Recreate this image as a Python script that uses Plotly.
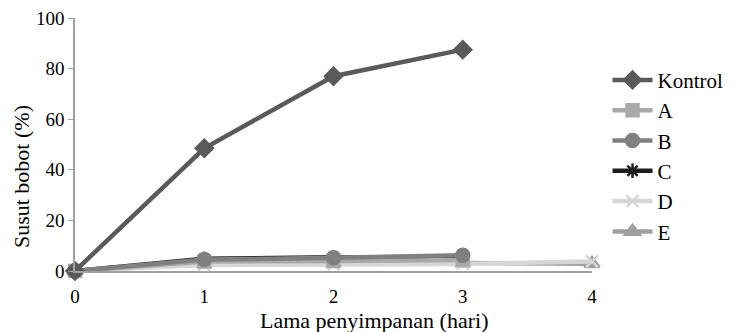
import plotly.graph_objects as go

days = [0, 1, 2, 3, 4]
series_names = ["Kontrol", "A", "B", "C", "D", "E"]
kontrol = [0, 48.5, 77.0, 87.5, None]
a_vals = [0, 3.8, 4.0, 4.3, None]
b_vals = [0, 4.5, 5.2, 6.2, None]
c_vals = [0, 4.8, 5.4, 4.6, None]
d_vals = [0, 2.4, 2.6, 2.8, 3.8]
e_vals = [0, 2.9, 3.0, 3.2, 2.9]
y_ticks = [0, 20, 40, 60, 80, 100]
x_title = "Lama penyimpanan (hari)"
y_title = "Susut bobot (%)"

values = [kontrol, a_vals, b_vals, c_vals, d_vals, e_vals]
colors = ["#5a5a5a", "#a9a9a9", "#808080", "#1e1e1e", "#d6d6d6", "#a0a0a0"]
symbols = ["diamond", "square", "circle", "asterisk-open", "x-thin-open", "triangle-up"]
sizes = [13, 12, 13, 12, 12, 13]

fig = go.Figure()
order = [5, 4, 3, 1, 2, 0]
for i in range(6):
    fig.add_trace(go.Scatter(
        x=days, y=values[i], name=series_names[i], mode="lines+markers",
        line=dict(color=colors[i], width=4.5),
        marker=dict(symbol=symbols[i], size=sizes[i], color=colors[i],
                    line=dict(color=colors[i], width=2.5)),
        cliponaxis=False, connectgaps=False, legendrank=i + 1,
    ))
fig.data = tuple(fig.data[j] for j in order)

font_family = "Liberation Serif, Times New Roman, serif"
fig.update_layout(
    width=733, height=332,
    margin=dict(l=67, r=149, t=10, b=69, autoexpand=False),
    paper_bgcolor="white", plot_bgcolor="white",
    font=dict(family=font_family, size=19, color="#000000"),
    showlegend=True,
    legend=dict(x=1.03, y=0.835, xanchor="left", yanchor="top",
                font=dict(family=font_family, size=21, color="#000000"),
                itemwidth=40, bgcolor="rgba(0,0,0,0)", tracegroupgap=0,
                traceorder="normal"),
    xaxis=dict(range=[0, 4], tickvals=days, ticktext=[str(d) for d in days],
               showgrid=False, zeroline=False, showline=True, automargin=False,
               linecolor="#a0a0a0", linewidth=1.5, ticks="",
               ticklabelstandoff=7,
               ticklabeloverflow="allow", tickfont=dict(size=19)),
    yaxis=dict(range=[0, 100], tickvals=y_ticks, showgrid=False, zeroline=False,
               showline=True, linecolor="#a0a0a0", linewidth=1.5, automargin=False,
               ticks="outside", ticklen=5, tickcolor="#a0a0a0",
               ticklabeloverflow="allow", tickfont=dict(size=19)),
    annotations=[
        dict(text=x_title, xref="paper", yref="paper", x=0.578, y=-0.194,
             xanchor="center", yanchor="middle", showarrow=False,
             font=dict(size=22)),
        dict(text=y_title, xref="paper", yref="paper", x=-0.1044, y=0.3715,
             xanchor="center", yanchor="middle", showarrow=False, textangle=-90,
             font=dict(size=22)),
    ],
)
fig.write_html("out.html")
